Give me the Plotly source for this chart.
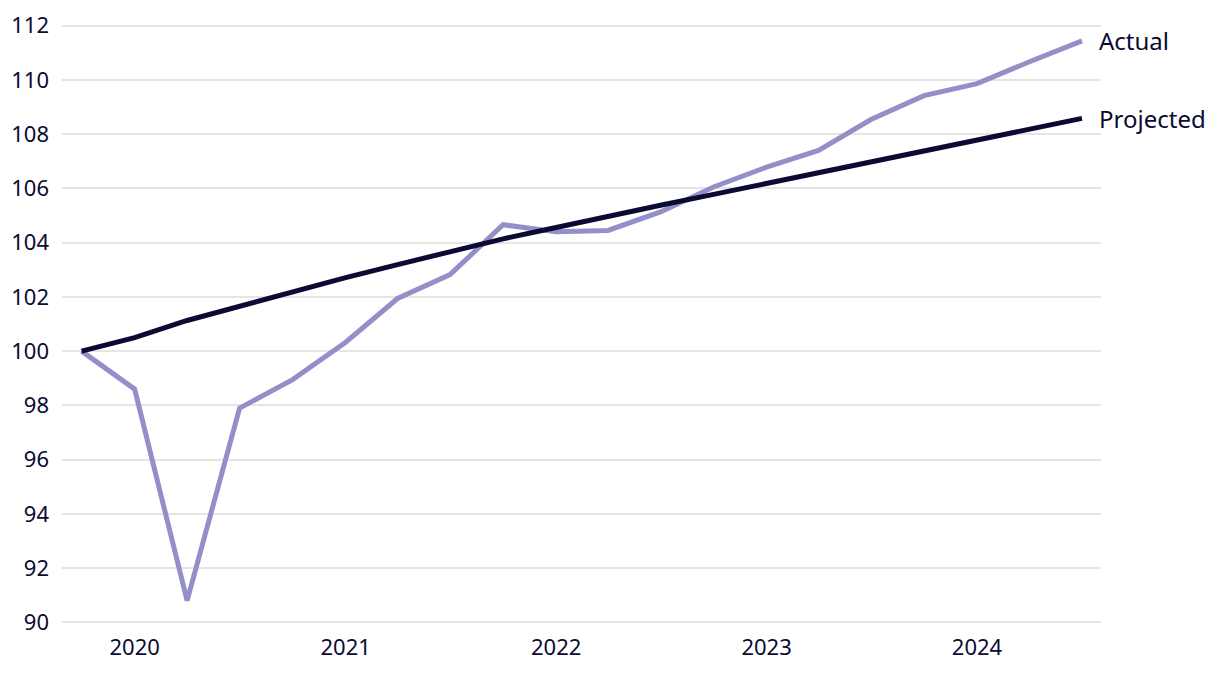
import plotly.graph_objects as go

quarters = ["2019-10-01", "2020-01-01", "2020-04-01", "2020-07-01", "2020-10-01",
            "2021-01-01", "2021-04-01", "2021-07-01", "2021-10-01",
            "2022-01-01", "2022-04-01", "2022-07-01", "2022-10-01",
            "2023-01-01", "2023-04-01", "2023-07-01", "2023-10-01",
            "2024-01-01", "2024-04-01", "2024-07-01"]
actual = [100.0, 98.6, 90.8, 97.9, 98.95, 100.33, 101.94, 102.82, 104.66, 104.4,
          104.45, 105.13, 106.05, 106.78, 107.4, 108.54, 109.42, 109.86, 110.67, 111.44]
projected = [100.0, 100.5, 101.13, 101.65, 102.2, 102.71, 103.19, 103.67, 104.14, 104.56,
             104.98, 105.38, 105.78, 106.18, 106.57, 106.96, 107.36, 107.78, 108.18, 108.58]
year_ticks = ["2020-01-01", "2021-01-01", "2022-01-01", "2023-01-01", "2024-01-01"]
year_labels = ["2020", "2021", "2022", "2023", "2024"]
y_ticks = [90, 92, 94, 96, 98, 100, 102, 104, 106, 108, 110, 112]

navy = "#0a0a33"
lavender = "#938fc8"
font = "Noto Sans"

fig = go.Figure()
fig.add_trace(go.Scatter(x=quarters, y=actual, mode="lines", name="Actual",
                         line=dict(color=lavender, width=5)))
fig.add_trace(go.Scatter(x=quarters, y=projected, mode="lines", name="Projected",
                         line=dict(color=navy, width=5)))

# end-of-line labels
for name, vals in [("Actual", actual), ("Projected", projected)]:
    fig.add_annotation(x=quarters[-1], y=vals[-1], text=name, showarrow=False,
                       xanchor="left", yanchor="middle", xshift=15,
                       font=dict(family=font, size=24, color=navy))

# page body has an 8px margin, so the figure is sized to fit inside it
fig.update_layout(
    width=1204, height=658,
    margin=dict(l=54, r=111, t=16, b=42),
    paper_bgcolor="white", plot_bgcolor="white",
    showlegend=False,
    font=dict(family=font, size=22, color=navy),
)
fig.update_xaxes(range=["2019-08-28", "2024-08-03"], tickvals=year_ticks, ticktext=year_labels,
                 showgrid=False, showline=False, zeroline=False, ticks="",
                 ticklabelstandoff=8, automargin=False)
fig.update_yaxes(range=[89.94, 112.06], tickvals=y_ticks, showgrid=True, gridcolor="#e5e5e5",
                 gridwidth=1.5, zeroline=False, showline=False, ticks="",
                 ticklabelstandoff=12, automargin=False)

fig.write_html("out.html")
